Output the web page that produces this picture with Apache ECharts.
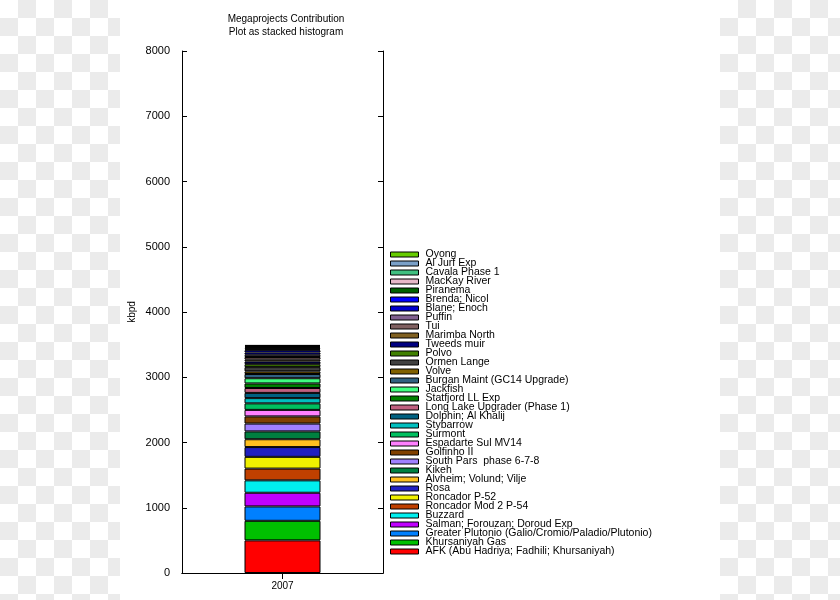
<!DOCTYPE html>
<html>
<head>
<meta charset="utf-8">
<script src="https://cdn.jsdelivr.net/npm/echarts@6/dist/echarts.min.js"></script>
<style>html,body{margin:0;padding:0;background:#fff}#c{width:840px;height:600px}</style>
</head>
<body>
<div id="c"></div>
<script>
// Data (stack order: bottom to top)
const categories = ['2007'];
const seriesNames = [
  'AFK (Abu Hadriya; Fadhili; Khursaniyah)',
  'Khursaniyah Gas',
  'Greater Plutonio (Galio/Cromio/Paladio/Plutonio)',
  'Salman; Forouzan; Doroud Exp',
  'Buzzard',
  'Roncador Mod 2 P-54',
  'Roncador P-52',
  'Rosa',
  'Alvheim; Volund; Vilje',
  'Kikeh',
  'South Pars  phase 6-7-8',
  'Golfinho II',
  'Espadarte Sul MV14',
  'Surmont',
  'Stybarrow',
  'Dolphin; Al Khalij',
  'Long Lake Upgrader (Phase 1)',
  'Statfjord LL Exp',
  'Jackfish',
  'Burgan Maint (GC14 Upgrade)',
  'Volve',
  'Ormen Lange',
  'Polvo',
  'Tweeds muir',
  'Marimba North',
  'Tui',
  'Puffin',
  'Blane; Enoch',
  'Brenda; Nicol',
  'Piranema',
  'MacKay River',
  'Cavala Phase 1',
  'Al Jurf Exp',
  'Oyong'
];
const seriesValues = [
  500, 300, 220, 210, 190, 180, 180, 150, 120, 120,
  120, 110, 100, 100, 80, 80, 75, 70, 80, 65,
  40, 65, 45, 40, 30, 40, 35, 35, 35, 15,
  20, 15, 15, 15
];
const seriesColors = [
  '#ff0000', '#00c000', '#0080ff', '#c000ff', '#00f0f0',
  '#c04000', '#f0f000', '#2020c0', '#ffc020', '#008040',
  '#a080ff', '#804000', '#ff80ff', '#00c060', '#00c0c0',
  '#006080', '#c06080', '#008000', '#40ff80', '#306080',
  '#806000', '#404040', '#408000', '#000080', '#806020',
  '#806060', '#806090', '#0000cc', '#0000ff', '#006000',
  '#e8b8c8', '#40c080', '#7aa0c8', '#66cc00'
];
const yMin = 0, yMax = 8000, yStep = 1000;

// checkerboard background pattern
const pc = document.createElement('canvas');
pc.width = 36; pc.height = 36;
const pctx = pc.getContext('2d');
pctx.fillStyle = '#ffffff'; pctx.fillRect(0, 0, 36, 36);
pctx.fillStyle = '#ebebeb'; pctx.fillRect(18, 0, 18, 18); pctx.fillRect(0, 18, 18, 18);

const FONT = 'Liberation Sans, Arial, sans-serif';
const chart = echarts.init(document.getElementById('c'), null, {renderer: 'canvas'});

const series = seriesNames.map((n, i) => ({
  name: n,
  type: 'bar',
  stack: 'total',
  barWidth: 76,
  data: [seriesValues[i]],
  itemStyle: {color: seriesColors[i], borderColor: '#000', borderWidth: 1},
  emphasis: {disabled: true},
  animation: false
}));

chart.setOption({
  animation: false,
  backgroundColor: {image: pc, repeat: 'repeat'},
  graphic: [{
    type: 'rect', z: -100, silent: true,
    shape: {x: 120, y: 0, width: 600, height: 600},
    style: {fill: '#ffffff'}
  }],
  title: {
    text: 'Megaprojects Contribution\nPlot as stacked histogram',
    left: 281, top: 8, textAlign: 'center',
    textStyle: {fontFamily: FONT, fontSize: 10, fontWeight: 'normal', color: '#000', lineHeight: 13}
  },
  legend: {
    orient: 'vertical',
    left: 390, top: 249, padding: 0, height: 340,
    itemWidth: 28, itemHeight: 5, itemGap: -2,
    icon: 'rect',
    data: seriesNames.slice().reverse(),
    selectedMode: false,
    itemStyle: {borderWidth: 1, borderColor: '#000'},
    textStyle: {fontFamily: FONT, fontSize: 10.5, color: '#000', padding: [0, 0, 0, 2]}
  },
  grid: {left: 182, right: 457, top: 51, bottom: 27},
  xAxis: [{
    type: 'category', data: categories, position: 'bottom',
    axisLine: {lineStyle: {color: '#000', width: 1}},
    axisTick: {show: false},
    axisLabel: {color: '#000', fontFamily: FONT, fontSize: 10, margin: 8}
  }, {
    type: 'category', data: categories, position: 'top',
    axisLine: {lineStyle: {color: '#000', width: 1}},
    axisTick: {show: true, inside: true, alignWithLabel: true, length: 6, lineStyle: {color: '#000'}},
    axisLabel: {show: false}
  }],
  yAxis: [{
    type: 'value', min: yMin, max: yMax, interval: yStep, position: 'left',
    name: 'kbpd', nameLocation: 'middle', nameGap: 45, nameRotate: 90,
    nameTextStyle: {color: '#000', fontFamily: FONT, fontSize: 10},
    axisLine: {show: true, lineStyle: {color: '#000', width: 1}},
    axisTick: {show: true, inside: true, length: 5, lineStyle: {color: '#000'}},
    axisLabel: {color: '#000', fontFamily: FONT, fontSize: 11, margin: 12, formatter: v => String(v)},
    splitLine: {show: false}
  }, {
    type: 'value', min: yMin, max: yMax, interval: yStep, position: 'right',
    axisLine: {show: true, lineStyle: {color: '#000', width: 1}},
    axisTick: {show: true, inside: true, length: 5, lineStyle: {color: '#000'}},
    axisLabel: {show: false},
    splitLine: {show: false}
  }],
  series: series
});
</script>
</body>
</html>
